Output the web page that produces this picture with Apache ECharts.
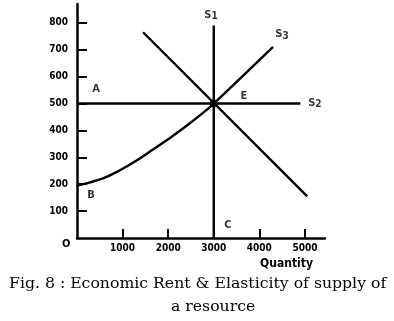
<!DOCTYPE html>
<html><head><meta charset="utf-8">
<script src="https://cdn.jsdelivr.net/npm/echarts@6/dist/echarts.min.js"></script>
<style>html,body{margin:0;padding:0;background:#fff}#c{width:394px;height:321px}</style>
</head><body><div id="c"></div>
<script>
// Tick values
const xTicks = [1000, 2000, 3000, 4000, 5000];
const yTicks = [100, 200, 300, 400, 500, 600, 700, 800];
// Supply curves
const s1 = [[3000, 0], [3000, 790]];                 // perfectly inelastic
const s2 = [[0, 500], [4900, 500]];                  // perfectly elastic
const s3 = [[0, 195], [570, 222], [943, 252], [1316, 289], [1667, 329], [2039, 372], [2412, 418], [2763, 465], [3000, 500], [4300, 711]];
const demand = [[1450, 765], [5050, 155]];
const equilibrium = [[3000, 500]];
// Annotation labels
const labelNames = ['A', 'E', 'B', 'C', 'S1', 'S2', 'S3'];
const labelX = [417, 3662, 307, 3311, 2939, 5219, 4496];
const labelY = [551, 525, 156, 45, 826, 499, 755];

const chart = echarts.init(document.getElementById('c'));
const sansB = '"DejaVu Sans Condensed", "DejaVu Sans", sans-serif';
const lineStyle = {color: '#000', width: 2.4};
function lineSeries(data, extra) {
  return Object.assign({type: 'line', data: data, symbol: 'none', lineStyle: lineStyle, clip: false, silent: true, animation: false}, extra || {});
}
const labelData = labelNames.map((n, i) => ({
  name: n, value: [labelX[i], labelY[i]],
  label: {formatter: n.length > 1 ? '{m|' + n[0] + '}{s|' + n[1] + '}' : '{m|' + n + '}'}
}));
chart.setOption({
  animation: false,
  backgroundColor: '#fff',
  grid: {left: 77, right: 69, top: 4, bottom: 83},
  title: [
    {text: 'Fig. 8 : Economic Rent & Elasticity of supply of', left: 9, top: 276,
     textStyle: {fontFamily: '"DejaVu Serif", serif', fontSize: 15.7, fontWeight: 'normal', color: '#000'}, padding: 0},
    {text: 'a resource', left: 171, top: 299,
     textStyle: {fontFamily: '"DejaVu Serif", serif', fontSize: 15.7, fontWeight: 'normal', color: '#000'}, padding: 0}
  ],
  graphic: [
    {type: 'text', left: 62, top: 239, style: {text: 'O', font: 'bold 11px ' + sansB, fill: '#000'}}
  ],
  xAxis: {
    type: 'value', min: 0, max: 5440,
    name: 'Quantity', nameLocation: 'end', nameGap: -12,
    nameTextStyle: {align: 'right', verticalAlign: 'top', padding: [20, 0, 0, 0], fontFamily: sansB, fontWeight: 'bold', fontSize: 12, color: '#000'},
    splitLine: {show: false},
    axisLine: {lineStyle: {color: '#000', width: 2.5}},
    axisTick: {inside: true, length: 9, lineStyle: {color: '#000', width: 2}, customValues: xTicks},
    axisLabel: {customValues: xTicks, margin: 5, formatter: v => String(v), fontFamily: sansB, fontWeight: 'bold', fontSize: 10, color: '#000'}
  },
  yAxis: {
    type: 'value', min: 0, max: 870,
    splitLine: {show: false},
    axisLine: {show: true, lineStyle: {color: '#000', width: 2.5}},
    axisTick: {show: true, inside: true, length: 10, lineStyle: {color: '#000', width: 2}, customValues: yTicks},
    axisLabel: {customValues: yTicks, margin: 9, formatter: v => String(v), fontFamily: sansB, fontWeight: 'bold', fontSize: 10, color: '#000'}
  },
  series: [
    lineSeries(s1),
    lineSeries(s2),
    lineSeries(s3, {smooth: 0.4}),
    lineSeries(demand),
    {type: 'scatter', data: equilibrium, symbol: 'circle', symbolSize: 8, itemStyle: {color: '#000'}, silent: true},
    {type: 'scatter', data: labelData, symbolSize: 0, silent: true, clip: false,
     label: {show: true, position: 'inside', color: '#000',
       rich: {
         m: {fontFamily: sansB, fontWeight: 'bold', fontSize: 11, color: '#000', lineHeight: 12, verticalAlign: 'top'},
         s: {fontFamily: sansB, fontWeight: 'bold', fontSize: 10, color: '#000', lineHeight: 10, padding: [5, 0, 0, 0], verticalAlign: 'bottom'}
       }}}
  ]
});
</script></body></html>
